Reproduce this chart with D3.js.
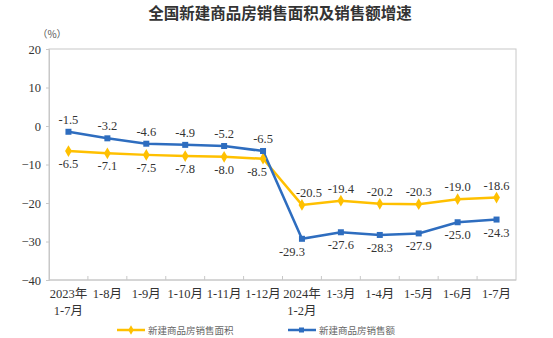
<!DOCTYPE html>
<html>
<head>
<meta charset="utf-8">
<script src="https://cdn.jsdelivr.net/npm/d3@7"></script>
<style>
  html, body { margin: 0; padding: 0; background: #fff; }
  svg { display: block; }
</style>
</head>
<body>
<svg id="chart" width="553" height="338"></svg>
<script>
// Monthly cumulative periods (two-line labels)
const periods = [
  ["2023年", "1-7月"], ["1-8月"], ["1-9月"], ["1-10月"], ["1-11月"], ["1-12月"],
  ["2024年", "1-2月"], ["1-3月"], ["1-4月"], ["1-5月"], ["1-6月"], ["1-7月"]
];
// Year-on-year growth, %
const areaGrowth  = [-6.5, -7.1, -7.5, -7.8, -8.0, -8.5, -20.5, -19.4, -20.2, -20.3, -19.0, -18.6];
const salesGrowth = [-1.5, -3.2, -4.6, -4.9, -5.2, -6.5, -29.3, -27.6, -28.3, -27.9, -25.0, -24.3];
const yTicks = [20, 10, 0, -10, -20, -30, -40];
const seriesNames = ["新建商品房销售面积", "新建商品房销售额"];

const W = 553, H = 338;
const m = { left: 49, right: 516, top: 49, bottom: 280 };
const svg = d3.select("#chart");
const serif = "'Liberation Serif', 'Times New Roman', 'Noto Sans CJK SC', serif";
const textColor = "#333";
const gold = "#FFC000", blue = "#2E6DBF";

const x = d3.scaleBand().domain(d3.range(periods.length)).range([m.left, m.right]);
const y = d3.scaleLinear().domain([-40, 20]).range([m.bottom, m.top]);
const cx = i => x(i) + x.bandwidth() / 2;

// Title
svg.append("text")
  .attr("x", 280).attr("y", 19)
  .attr("text-anchor", "middle")
  .attr("font-family", "'Noto Sans CJK SC', sans-serif")
  .attr("font-weight", "bold")
  .attr("font-size", 15.5)
  .attr("fill", "#333")
  .text("全国新建商品房销售面积及销售额增速");

// Unit
svg.append("text")
  .attr("x", 52).attr("y", 38)
  .attr("text-anchor", "middle")
  .attr("font-family", "'Noto Sans CJK SC', sans-serif")
  .attr("font-size", 10)
  .attr("fill", "#555")
  .text("（%）");

// Plot frame
svg.append("rect")
  .attr("x", m.left).attr("y", m.top)
  .attr("width", m.right - m.left).attr("height", m.bottom - m.top)
  .attr("fill", "none").attr("stroke", "#c8c8c8").attr("stroke-width", 1);

// Y axis
const yAxis = svg.append("g")
  .attr("transform", `translate(${m.left},0)`)
  .call(d3.axisLeft(y).tickValues(yTicks).tickSize(3).tickPadding(5).tickFormat(d3.format("d")));
yAxis.select(".domain").attr("stroke", "#c8c8c8");
yAxis.selectAll(".tick line").attr("stroke", "#c8c8c8");
yAxis.selectAll(".tick text")
  .attr("font-family", serif).attr("font-size", 12.5).attr("fill", textColor);

// X axis: ticks at band boundaries, pointing inward
const xAxisG = svg.append("g").attr("transform", `translate(0,${m.bottom})`);
xAxisG.append("line")
  .attr("x1", m.left).attr("x2", m.right)
  .attr("stroke", "#c8c8c8");
xAxisG.selectAll("line.tk")
  .data(d3.range(1, periods.length))
  .join("line")
  .attr("class", "tk")
  .attr("x1", d => x(d)).attr("x2", d => x(d))
  .attr("y1", 0).attr("y2", -4)
  .attr("stroke", "#c8c8c8");
const xl = xAxisG.selectAll("text.lbl")
  .data(periods)
  .join("text")
  .attr("class", "lbl")
  .attr("text-anchor", "middle")
  .attr("font-family", serif)
  .attr("font-size", 12.5)
  .attr("fill", textColor);
xl.each(function(d, i) {
  d3.select(this).selectAll("tspan")
    .data(d)
    .join("tspan")
    .attr("x", cx(i))
    .attr("y", (t, j) => 18 + j * 17)
    .text(t => t);
});

// Lines
const line = d3.line().x((d, i) => cx(i)).y(d => y(d));
svg.append("path").datum(areaGrowth)
  .attr("d", line).attr("fill", "none")
  .attr("stroke", gold).attr("stroke-width", 2.5);
svg.append("path").datum(salesGrowth)
  .attr("d", line).attr("fill", "none")
  .attr("stroke", blue).attr("stroke-width", 2.5);

// Markers
const diamond = d3.symbol().type(d3.symbolDiamond).size(40);
svg.append("g").selectAll("path")
  .data(areaGrowth).join("path")
  .attr("d", diamond)
  .attr("transform", (d, i) => `translate(${cx(i)},${y(d)})`)
  .attr("fill", gold);
svg.append("g").selectAll("rect")
  .data(salesGrowth).join("rect")
  .attr("x", (d, i) => cx(i) - 3).attr("y", d => y(d) - 3)
  .attr("width", 6).attr("height", 6)
  .attr("fill", blue);

// Value labels: the upper series gets labels above, the lower one below.
// Labels beside the steep drop are nudged sideways to keep clear of the lines.
function labels(values, other, nudge) {
  svg.append("g").selectAll("text")
    .data(values).join("text")
    .attr("x", (d, i) => cx(i) + (nudge[i] || 0))
    .attr("y", (d, i) => d >= other[i] ? y(d) - 8 : y(d) + 17)
    .attr("text-anchor", "middle")
    .attr("font-family", serif)
    .attr("font-size", 12.5)
    .attr("fill", textColor)
    .text(d => d.toFixed(1));
}
labels(areaGrowth, salesGrowth, { 5: -6, 6: 7 });
labels(salesGrowth, areaGrowth, { 6: -10 });

// Legend
const legend = svg.append("g").attr("transform", "translate(0,330)");
const items = [
  { name: seriesNames[0], color: gold, x0: 117, kind: "diamond" },
  { name: seriesNames[1], color: blue, x0: 288, kind: "square" }
];
items.forEach(it => {
  legend.append("line")
    .attr("x1", it.x0).attr("x2", it.x0 + 28)
    .attr("stroke", it.color).attr("stroke-width", 2.5);
  if (it.kind === "diamond") {
    legend.append("path").attr("d", d3.symbol().type(d3.symbolDiamond).size(26))
      .attr("transform", `translate(${it.x0 + 14},0)`).attr("fill", it.color);
  } else {
    legend.append("rect").attr("x", it.x0 + 11).attr("y", -2.5)
      .attr("width", 5).attr("height", 5).attr("fill", it.color);
  }
  legend.append("text")
    .attr("x", it.x0 + 31).attr("y", 3.5)
    .attr("font-family", "'Noto Sans CJK SC', sans-serif")
    .attr("font-size", 9.5)
    .attr("fill", "#666")
    .text(it.name);
});
</script>
</body>
</html>
